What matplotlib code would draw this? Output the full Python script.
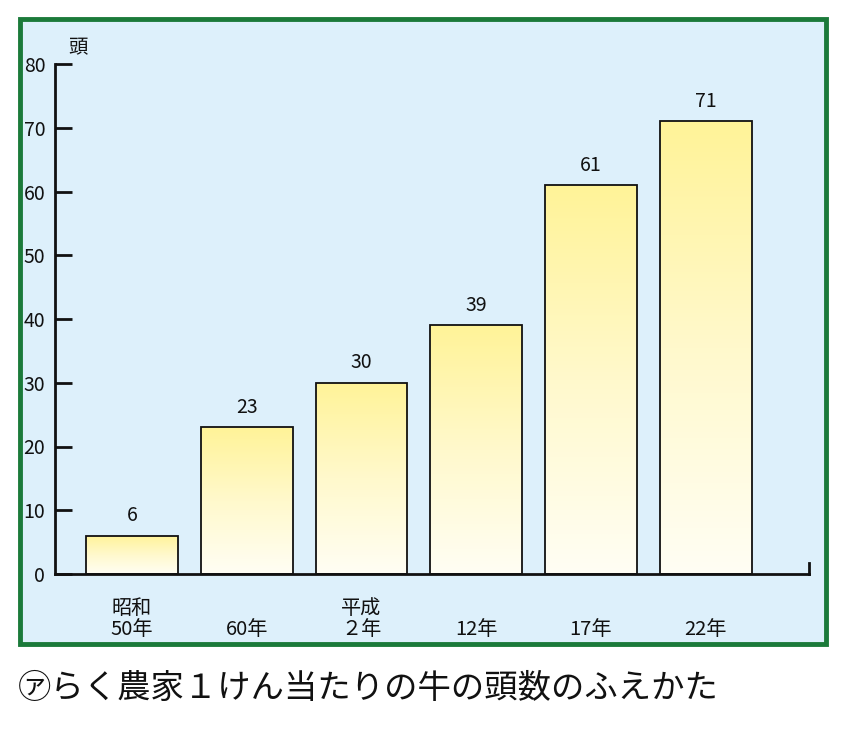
import numpy as np
import matplotlib
matplotlib.use("Agg")
import matplotlib.pyplot as plt
from matplotlib.patches import Rectangle
from matplotlib.colors import LinearSegmentedColormap

plt.rcParams['font.family'] = ['Noto Sans CJK JP', 'DejaVu Sans']

categories = ["昭和\n50年", "60年", "平成\n２年", "12年", "17年", "22年"]
values = [6, 23, 30, 39, 61, 71]
yticks = [0, 10, 20, 30, 40, 50, 60, 70, 80]
title = "㋐らく農家１けん当たりの牛の頭数のふえかた"
unit = "頭"

W, H = 845, 730
fig = plt.figure(figsize=(W / 100, H / 100), dpi=100)
fig.patch.set_facecolor("white")

# green frame with light blue fill
frame = Rectangle((20 / W, 1 - 644 / H), (826 - 20) / W, (644 - 19) / H,
                  transform=fig.transFigure, facecolor="#DDF0FB",
                  edgecolor="#1B7A3A", linewidth=3.5, zorder=-10)
fig.patches.append(frame)

ax = fig.add_axes([55 / W, 156 / H, (809 - 55) / W, (574 - 64) / H])
ax.set_zorder(5)
ax.set_facecolor("none")
x = np.arange(len(values))
width = 0.8
bars = ax.bar(x, values, width=width, facecolor="none", edgecolor="#111111",
              linewidth=1.3, zorder=3)

cmap = LinearSegmentedColormap.from_list("yg", ["#FFFEF4", "#FFF9CC", "#FFF398"])
grad = np.linspace(0, 1, 256).reshape(-1, 1)
for b in bars:
    bx, by = b.get_x(), b.get_y()
    bw, bh = b.get_width(), b.get_height()
    im = ax.imshow(grad, cmap=cmap, aspect="auto", origin="lower",
                   extent=[bx, bx + bw, by, by + bh], zorder=2)
    im.set_clip_path(b)

for xi, v in zip(x, values):
    ax.text(xi, v + 1.5, str(v), ha="center", va="bottom", fontsize=14,
            color="#111111")

ax.set_xlim(-0.67, 5.9)
ax.set_ylim(0, 80)
ax.set_yticks(yticks)
ax.set_yticklabels([str(t) for t in yticks], fontsize=14)
ax.tick_params(axis="y", direction="in", length=12, width=2, pad=7,
               colors="#111111")
ax.set_xticks([])
ax.spines["top"].set_visible(False)
for s in ["left", "bottom", "right"]:
    ax.spines[s].set_linewidth(2)
    ax.spines[s].set_color("#111111")
ax.spines["right"].set_bounds(0, 1.8)

for xi, c in zip(x, categories):
    ax.text(xi, -10.4, c, ha="center", va="bottom", fontsize=14.5,
            linespacing=1.0, color="#111111")

ax.text(13 / 754, 1.012, unit, transform=ax.transAxes, ha="left", va="bottom",
        fontsize=14, color="#111111")

fig.text(18 / W, 1 - 688 / H, title, ha="left", va="center", fontsize=24,
         color="#111111")

fig.savefig("out.png", dpi=100)
